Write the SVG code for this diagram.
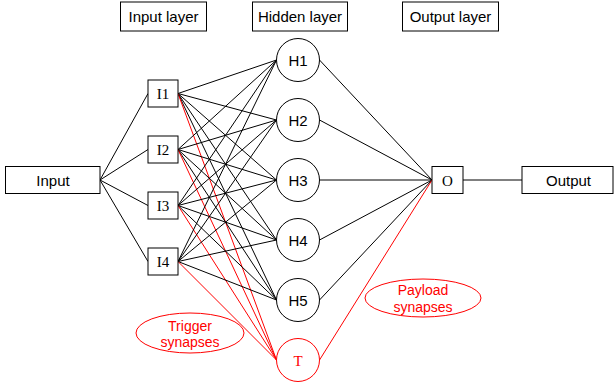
<svg xmlns="http://www.w3.org/2000/svg" width="614" height="388" viewBox="0 0 614 388">
<style>
  .box { fill: #fff; stroke: #000; stroke-width: 1; }
  .nd { fill: #fff; stroke: #000; stroke-width: 1; }
  .red { fill: #fff; stroke: #f00; stroke-width: 1; }
  .lbl { fill: none; stroke: #f00; stroke-width: 1; }
  .sans { font-family: "Liberation Sans", Arial, sans-serif; font-size: 15px; fill: #000; text-anchor: middle; }
  .serif { font-family: "Liberation Serif", "Times New Roman", serif; font-size: 15px; fill: #000; text-anchor: middle; }
  .rt { font-family: "Liberation Sans", Arial, sans-serif; font-size: 14px; fill: #f00; text-anchor: middle; }
  .k { stroke: #000; stroke-width: 1; fill: none; }
  .r { stroke: #f00; stroke-width: 1; fill: none; }
</style>
<rect width="614" height="388" fill="#fff"/>
<g id="connectors">
  <!-- Input to I -->
  <line class="k" x1="100" y1="180" x2="148" y2="93.5"/>
  <line class="k" x1="100" y1="180" x2="148" y2="149.5"/>
  <line class="k" x1="100" y1="180" x2="148" y2="205.5"/>
  <line class="k" x1="100" y1="180" x2="148" y2="261.5"/>
  <!-- I1 -->
  <line class="k" x1="178" y1="93.5" x2="276.5" y2="60"/>
  <line class="k" x1="178" y1="93.5" x2="276.5" y2="120"/>
  <line class="k" x1="178" y1="93.5" x2="276.5" y2="180"/>
  <line class="k" x1="178" y1="93.5" x2="276.5" y2="240"/>
  <line class="k" x1="178" y1="93.5" x2="276.5" y2="300"/>
  <line class="r" x1="178" y1="93.5" x2="276.5" y2="360"/>
  <!-- I2 -->
  <line class="k" x1="178" y1="149.5" x2="276.5" y2="60"/>
  <line class="k" x1="178" y1="149.5" x2="276.5" y2="120"/>
  <line class="k" x1="178" y1="149.5" x2="276.5" y2="180"/>
  <line class="k" x1="178" y1="149.5" x2="276.5" y2="240"/>
  <line class="k" x1="178" y1="149.5" x2="276.5" y2="300"/>
  <line class="r" x1="178" y1="149.5" x2="276.5" y2="360"/>
  <!-- I3 -->
  <line class="k" x1="178" y1="205.5" x2="276.5" y2="60"/>
  <line class="k" x1="178" y1="205.5" x2="276.5" y2="120"/>
  <line class="k" x1="178" y1="205.5" x2="276.5" y2="180"/>
  <line class="k" x1="178" y1="205.5" x2="276.5" y2="240"/>
  <line class="k" x1="178" y1="205.5" x2="276.5" y2="300"/>
  <line class="r" x1="178" y1="205.5" x2="276.5" y2="360"/>
  <!-- I4 -->
  <line class="k" x1="178" y1="261.5" x2="276.5" y2="60"/>
  <line class="k" x1="178" y1="261.5" x2="276.5" y2="120"/>
  <line class="k" x1="178" y1="261.5" x2="276.5" y2="180"/>
  <line class="k" x1="178" y1="261.5" x2="276.5" y2="240"/>
  <line class="k" x1="178" y1="261.5" x2="276.5" y2="300"/>
  <line class="r" x1="178" y1="261.5" x2="276.5" y2="360"/>
  <!-- H to O -->
  <line class="k" x1="319.5" y1="60" x2="432" y2="180"/>
  <line class="k" x1="319.5" y1="120" x2="432" y2="180"/>
  <line class="k" x1="319.5" y1="180" x2="432" y2="180"/>
  <line class="k" x1="319.5" y1="240" x2="432" y2="180"/>
  <line class="k" x1="319.5" y1="300" x2="432" y2="180"/>
  <line class="r" x1="319.5" y1="360" x2="432" y2="180"/>
  <!-- O to Output -->
  <line class="k" x1="463" y1="180" x2="522" y2="180"/>
</g>
<g id="hdr-input"><rect class="box" x="120.5" y="2" width="86" height="29"/><text class="sans" x="163.5" y="22">Input layer</text></g>
<g id="hdr-hidden"><rect class="box" x="252.5" y="2" width="95" height="29"/><text class="sans" x="300" y="22">Hidden layer</text></g>
<g id="hdr-output"><rect class="box" x="402.5" y="2" width="96" height="29"/><text class="sans" x="450.5" y="22">Output layer</text></g>
<g id="input"><rect class="box" x="5.5" y="166.5" width="94.5" height="27"/><text class="sans" x="53" y="185.5">Input</text></g>
<g id="I1"><rect class="box" x="148" y="80" width="30" height="27"/><text class="serif" x="163" y="99">I1</text></g>
<g id="I2"><rect class="box" x="148" y="136" width="30" height="27"/><text class="serif" x="163" y="155">I2</text></g>
<g id="I3"><rect class="box" x="148" y="192" width="30" height="27"/><text class="serif" x="163" y="211">I3</text></g>
<g id="I4"><rect class="box" x="148" y="248" width="30" height="27"/><text class="serif" x="163" y="267">I4</text></g>
<g id="H1"><circle class="nd" cx="298" cy="60" r="21.5"/><text class="sans" x="298" y="65.5">H1</text></g>
<g id="H2"><circle class="nd" cx="298" cy="120" r="21.5"/><text class="sans" x="298" y="125.5">H2</text></g>
<g id="H3"><circle class="nd" cx="298" cy="180" r="21.5"/><text class="sans" x="298" y="185.5">H3</text></g>
<g id="H4"><circle class="nd" cx="298" cy="240" r="21.5"/><text class="sans" x="298" y="245.5">H4</text></g>
<g id="H5"><circle class="nd" cx="298" cy="300" r="21.5"/><text class="sans" x="298" y="305.5">H5</text></g>
<g id="T"><circle class="red" cx="298" cy="360" r="21.5"/><text class="serif" x="298" y="365.5" fill="#f00" style="fill:#f00">T</text></g>
<g id="O"><rect class="box" x="432" y="166.5" width="31" height="27"/><text class="serif" x="447.5" y="185.5">O</text></g>
<g id="output"><rect class="box" x="522" y="166.5" width="91" height="27"/><text class="sans" x="568.5" y="185.5">Output</text></g>
<g id="trigger"><ellipse class="lbl" cx="190" cy="333" rx="54" ry="20"/><text class="rt" x="190" y="331">Trigger</text><text class="rt" x="190" y="347">synapses</text></g>
<g id="payload"><ellipse class="lbl" cx="423" cy="298" rx="58" ry="19"/><text class="rt" x="423" y="295">Payload</text><text class="rt" x="423" y="311.5">synapses</text></g>
</svg>
